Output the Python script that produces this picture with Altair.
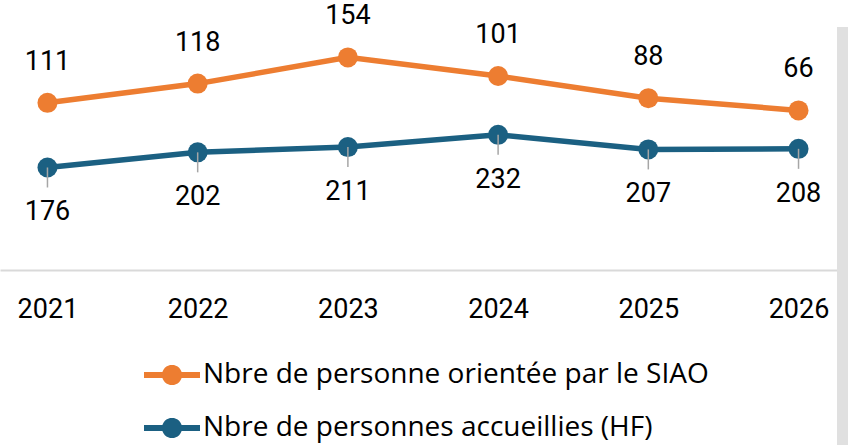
import math
import altair as alt
import pandas as pd

years = ["2021", "2022", "2023", "2024", "2025", "2026"]
siao = [111, 118, 154, 101, 88, 66]
hf = [176, 202, 211, 232, 207, 208]
series_names = ["Nbre de personne orientée par le SIAO", "Nbre de personnes accueillies (HF)"]
colors = ["#ED7D31", "#1B6082"]

rows = []
for i, y in enumerate(years):
    rows.append({"year": y, "series": series_names[1], "value": hf[i], "ord": 0})
    rows.append({"year": y, "series": series_names[0], "value": siao[i], "ord": 1})
df = pd.DataFrame(rows)

FONT = "Roboto"
FS = 27
LEG_FONT = "Open Sans"
LEG_FS = 28

# legend glyph: a line with a dot in the middle (unit box -1..1)
h = 0.11
r = 0.36
circ = " ".join(
    ("M" if k == 0 else "L") + f"{r*math.cos(2*math.pi*k/32):.4f},{r*math.sin(2*math.pi*k/32):.4f}"
    for k in range(32)
) + " Z"
legend_path = f"M-1,{-h} L1,{-h} L1,{h} L-1,{h} Z " + circ

base = alt.Chart(df).transform_stack(
    stack="value", groupby=["year"], as_=["y0", "y1"], sort=[alt.SortField("ord")]
)

x = alt.X("year:N", sort=years, scale=alt.Scale(type="point", padding=0.316),
          axis=alt.Axis(title=None, labelAngle=0, ticks=False, domain=True,
                        domainColor="#d9d9d9", domainWidth=2, grid=False,
                        labelFont=FONT, labelFontSize=FS, labelColor="#000000",
                        labelPadding=26))
y = alt.Y("y1:Q", scale=alt.Scale(domain=[0, 400], nice=False, zero=True), axis=None)

color = alt.Color("series:N", scale=alt.Scale(domain=series_names, range=colors),
                  legend=alt.Legend(title=None, orient="none", legendX=144, legendY=310,
                                    symbolType=legend_path, symbolSize=3136,
                                    symbolStrokeWidth=0, symbolOpacity=1,
                                    labelFont=LEG_FONT, labelFontSize=LEG_FS, labelColor="#000000",
                                    labelOffset=3, rowPadding=11, labelLimit=800))

lines = base.mark_line(strokeWidth=5.5).encode(x=x, y=y, color=color)

points = base.mark_point(filled=True, size=400, opacity=1).encode(x=x, y=y, color=color)

leaders = base.transform_filter(alt.datum.ord == 0).mark_rule(
    color="#a6a6a6", strokeWidth=1.5, y2Offset=20
).encode(x=x, y=y, y2="y1:Q")

lab_top = base.transform_filter(alt.datum.ord == 1).mark_text(
    font=FONT, fontSize=FS, dy=-41, color="#000000"
).encode(x=x, y=y, text="value:Q")

lab_bot = base.transform_filter(alt.datum.ord == 0).mark_text(
    font=FONT, fontSize=FS, dy=45, color="#000000"
).encode(x=x, y=y, text="value:Q")

side = alt.Chart(pd.DataFrame({"a": [0]})).mark_rect(color="#e0e0e0").encode(
    x=alt.value(837), x2=alt.value(848), y=alt.value(-10), y2=alt.value(408)
)

chart = alt.layer(lines, points, leaders, lab_top, lab_bot, side).properties(
    width=846, height=233,
    background="#ffffff",
    autosize=alt.AutoSizeParams(type="none"),
    padding={"left": 0, "top": 37, "right": 2, "bottom": 175},
).configure_view(strokeWidth=0)

chart.save("out.html", embed_options={"renderer": "svg", "actions": False})
